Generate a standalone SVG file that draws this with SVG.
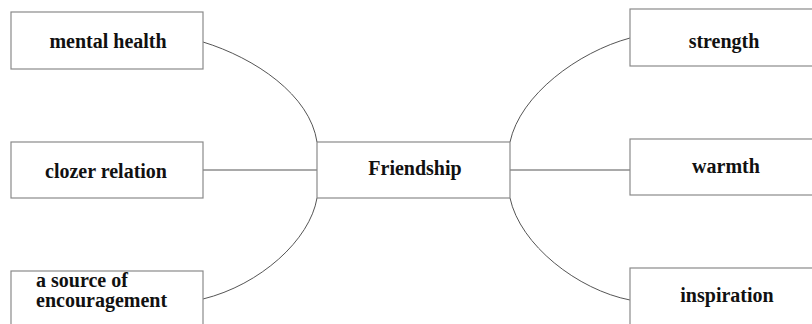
<svg xmlns="http://www.w3.org/2000/svg" width="812" height="324" viewBox="0 0 812 324">
<style>
.box{fill:#fff;stroke:#8a8a8a;stroke-width:1.2}
.lbl{font-family:"Liberation Serif","Times New Roman",serif;font-weight:bold;font-size:20px;fill:#111}
.c{fill:none;stroke:#555;stroke-width:1}
</style>
<rect width="812" height="324" fill="#fff"/>
<g id="connectors">
<path class="c" d="M203,42 C255,58 310,95 317,142"/>
<path class="c" d="M203,170 L317,170"/>
<path class="c" d="M317,198 C310,240 260,285 203,299"/>
<path class="c" d="M630,38 C578,52 520,95 510,142"/>
<path class="c" d="M510,170 L630,170"/>
<path class="c" d="M510,198 C520,245 578,290 630,300"/>
</g>
<g id="friendship">
<rect class="box" x="317" y="142" width="193" height="56"/>
<text class="lbl" x="415" y="175" text-anchor="middle">Friendship</text>
</g>
<g id="mental-health">
<rect class="box" x="11" y="12" width="192" height="57"/>
<text class="lbl" x="108" y="48" text-anchor="middle">mental health</text>
</g>
<g id="clozer-relation">
<rect class="box" x="11" y="142" width="192" height="56"/>
<text class="lbl" x="106" y="178" text-anchor="middle">clozer relation</text>
</g>
<g id="source">
<rect class="box" x="11" y="271" width="192" height="70"/>
<text class="lbl" x="36" y="287">a source of</text>
<text class="lbl" x="36" y="307">encouragement</text>
</g>
<g id="strength">
<rect class="box" x="630" y="9" width="192" height="57"/>
<text class="lbl" x="724" y="48" text-anchor="middle">strength</text>
</g>
<g id="warmth">
<rect class="box" x="630" y="139" width="192" height="56"/>
<text class="lbl" x="726" y="173" text-anchor="middle">warmth</text>
</g>
<g id="inspiration">
<rect class="box" x="630" y="268" width="192" height="70"/>
<text class="lbl" x="727" y="302" text-anchor="middle">inspiration</text>
</g>
</svg>
